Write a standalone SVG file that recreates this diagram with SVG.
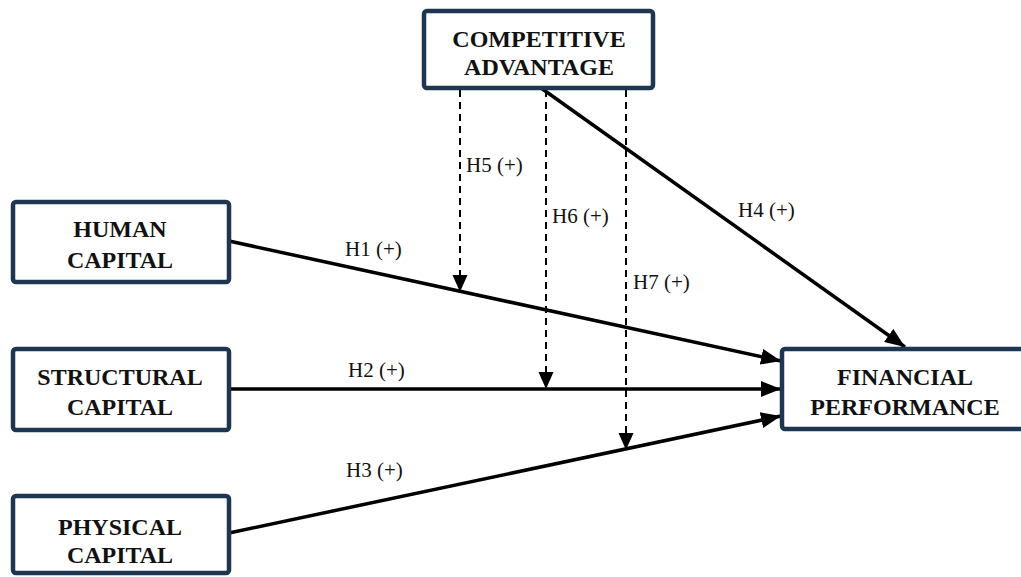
<svg xmlns="http://www.w3.org/2000/svg" width="1021" height="577" viewBox="0 0 1021 577">
<style>
.box{fill:#fff;stroke:#1f3651;stroke-width:4.5}
.nt{font-family:"Liberation Serif","Times New Roman",serif;font-weight:bold;font-size:24px;fill:#111;text-anchor:middle}
.lb{font-family:"Liberation Serif","Times New Roman",serif;font-size:21px;fill:#111}
.sol{stroke:#000;stroke-width:3.5;fill:none;marker-end:url(#ah)}
.dsh{stroke:#000;stroke-width:2;fill:none;stroke-dasharray:7 5;marker-end:url(#ah2)}
</style>
<defs>
<marker id="ah" markerUnits="userSpaceOnUse" markerWidth="21" markerHeight="16" refX="20" refY="8" orient="auto">
<path d="M0,0 L20,8 L0,16 z" fill="#000"/>
</marker>
<marker id="ah2" markerUnits="userSpaceOnUse" markerWidth="18" markerHeight="16" refX="17" refY="8" orient="auto">
<path d="M0,0.5 L17,8 L0,15.5 z" fill="#000"/>
</marker>
</defs>
<rect width="1021" height="577" fill="#fff"/>
<g id="connectors">
<line class="sol" x1="229" y1="241" x2="781" y2="361"/>
<line class="sol" x1="229" y1="389" x2="781" y2="389"/>
<line class="sol" x1="229" y1="533" x2="781" y2="416"/>
<line class="sol" x1="541" y1="88" x2="905" y2="347"/>
<line class="dsh" x1="460" y1="90" x2="460" y2="292"/>
<line class="dsh" x1="546" y1="90" x2="546" y2="389"/>
<line class="dsh" x1="626" y1="90" x2="626" y2="450"/>
<text class="lb" x="345" y="256">H1 (+)</text>
<text class="lb" x="348" y="377">H2 (+)</text>
<text class="lb" x="346" y="477">H3 (+)</text>
<text class="lb" x="738" y="217">H4 (+)</text>
<text class="lb" x="466" y="172">H5 (+)</text>
<text class="lb" x="552" y="223">H6 (+)</text>
<text class="lb" x="633" y="289">H7 (+)</text>
</g>
<g id="competitive">
<rect class="box" x="424" y="11" width="229" height="77" rx="3"/>
<text class="nt" x="539" y="47">COMPETITIVE</text>
<text class="nt" x="539" y="75">ADVANTAGE</text>
</g>
<g id="human">
<rect class="box" x="13" y="202" width="216" height="80" rx="3"/>
<text class="nt" x="120" y="237">HUMAN</text>
<text class="nt" x="120" y="268">CAPITAL</text>
</g>
<g id="structural">
<rect class="box" x="13" y="349" width="216" height="81" rx="3"/>
<text class="nt" x="120" y="385">STRUCTURAL</text>
<text class="nt" x="120" y="415">CAPITAL</text>
</g>
<g id="physical">
<rect class="box" x="13" y="496" width="216" height="77" rx="3"/>
<text class="nt" x="120" y="535">PHYSICAL</text>
<text class="nt" x="120" y="563">CAPITAL</text>
</g>
<g id="financial">
<rect class="box" x="782" y="349" width="260" height="80" rx="3"/>
<text class="nt" x="905" y="385">FINANCIAL</text>
<text class="nt" x="905" y="415">PERFORMANCE</text>
</g>
</svg>
